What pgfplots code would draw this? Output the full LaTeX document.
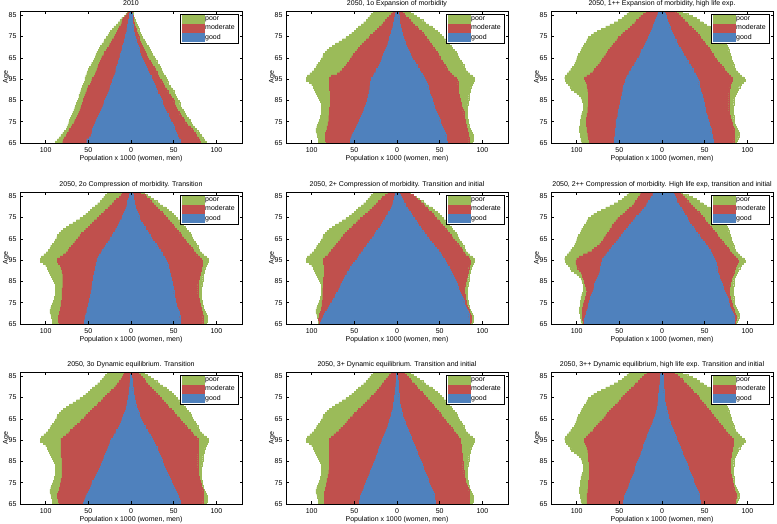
\documentclass[border=0pt]{standalone}
\usepackage{fontspec}
\setmainfont{Liberation Sans}
\usepackage{pgfplots}
\usepackage{pgfplotstable}
\pgfplotsset{compat=1.18}
\definecolor{cgood}{HTML}{4F81BD}
\definecolor{cmod}{HTML}{C0504D}
\definecolor{cpoor}{HTML}{9BBB59}

% ---------- totals (poor = outer boundary) ----------
\pgfplotstableread{
a wp mp
0 89 88
1 86 86
2 84 84
3 82 82
4 80 80
5 78 78
6 76 76
7 75 74
8 74 72
9 73 70
10 72 69
11 71 67
12 70 65
13 69 63
14 68 62
15 67 61
16 66 59
17 65 58
18 64 57
19 63 56
20 62 54
21 61 53
22 61 52
23 60 51
24 59 50
25 58 48
26 57 46
27 56 44
28 55 43
29 54 42
30 54 41
31 53 40
32 52 38
33 51 37
34 50 35
35 49 34
36 47 33
37 46 31
38 44 30
39 43 28
40 42 27
41 41 25
42 40 24
43 38 22
44 37 21
45 36 20
46 34 18
47 32 17
48 31 15
49 29 13
50 27 12
51 26 11
52 24 10
53 22 9
54 20 8
55 17 7
56 15 6
57 13 5
58 11 4
59 8 3
60 6 2.5
61 4 2
}\TotOne

\pgfplotstableread{
a wp mp
0 92 88
1 92 89
2 92 89
3 93 89
4 94 88
5 95 87
6 95 86
7 94 85
8 93 84
9 92 83
10 91 83
11 90 82
12 90 82
13 89 82
14 89 82
15 89 82
16 89 82
17 89 82
18 89 83
19 90 83
20 91 84
21 92 84
22 93 84
23 95 85
24 96 86
25 97 86
26 98 87
27 100 88
28 103 89
29 106 90
30 106 90
31 105 88
32 102 85
33 99 82
34 97 80
35 95 79
36 94 78
37 92 76
38 90 75
39 89 73
40 87 72
41 86 70
42 84 69
43 82 67
44 79 65
45 76 63
46 72 61
47 68 59
48 64 57
49 60 54
50 56 52
51 53 49
52 50 47
53 48 44
54 45 41
55 42 37
56 39 33
57 36 30
58 34 26
59 32 22
60 30 19
61 28 15
}\TotBase

\pgfplotstableread{
a wp mp
0 94 87
1 95 88
2 95 89
3 96 90
4 96 90
5 97 89
6 97 88
7 97 87
8 96 86
9 96 85
10 96 85
11 95 84
12 95 84
13 94 83
14 93 83
15 92 83
16 92 83
17 92 83
18 92 84
19 93 84
20 94 84
21 95 85
22 97 86
23 100 87
24 103 88
25 106 89
26 108 91
27 110 93
28 112 95
29 113 97
30 114 96
31 113 93
32 111 90
33 109 88
34 107 86
35 105 85
36 103 84
37 102 83
38 101 82
39 100 81
40 99 81
41 98 80
42 96 79
43 95 78
44 94 77
45 92 76
46 91 75
47 89 73
48 88 71
49 86 69
50 83 67
51 80 64
52 76 62
53 71 59
54 66 56
55 61 52
56 56 48
57 51 44
58 47 40
59 44 35
60 41 30
61 39 24
}\TotHigh

% ---------- panels: good and good+moderate boundaries ----------
\pgfplotstableread{
a wg wm mg mm
0 52 80 58 81
1 52 79 57 80
2 49 78 55 78
3 47 76 54 76
4 46 75 53 75
5 45 73 52 73
6 45 72 51 71
7 44 70 50 69
8 43 69 49 66
9 42 67 48 64
10 41 66 46 62
11 40 64 45 61
12 38 63 44 59
13 37 62 43 57
14 36 61 41 56
15 35 60 40 54
16 34 59 39 53
17 33 58 38 52
18 32 57 37 51
19 31 56 36 50
20 30 56 35 49
21 29 55 34 47
22 28 54 33 46
23 27 53 31 44
24 26 52 30 43
25 25 51 29 41
26 24 50 28 39
27 23 48 27 38
28 22 47 26 36
29 22 46 25 35
30 21 45 24 33
31 20 43 23 32
32 19 42 21 31
33 18 41 20 30
34 18 40 19 28
35 17 39 18 27
36 16 38 17 25
37 15 37 15 24
38 15 36 14 22
39 14 35 13 20
40 13 34 12 19
41 13 32 11 18
42 12 31 10 17
43 11 29 9.5 15
44 10 28 9 14
45 10 26 8 13
46 9 25 7 12
47 8 23 6 11
48 8 22 5.5 10
49 7 20 5 9
50 7 19 4 8
51 6 17 3.5 7
52 5 16 3 6
53 5 15 2.5 6
54 4 14 2 5
55 4 12 2 4
56 3 11 1.5 3.5
57 3 10 1.5 3
58 2 9 1 2.5
59 2 7 1 2
60 2 5 1 1.5
61 1 3 0.5 1
}\DatA

\pgfplotstableread{
a wg wm mg mm
0 55 83 59 84
1 55 84 58 84
2 54 84 58 84
3 53 84 57 83
4 52 84 56 83
5 50 83 55 82
6 49 82 54 82
7 48 82 53 81
8 47 81 52 81
9 45 81 51 80
10 44 80 50 80
11 43 80 49 79
12 42 80 48 79
13 41 79 47 78
14 40 79 46 78
15 39 79 45 77
16 38 79 44 76
17 37 78 43 75
18 36 78 42 75
19 35 78 41 74
20 35 78 41 74
21 34 78 40 73
22 34 78 39 73
23 33 78 38 72
24 33 78 38 72
25 32 79 37 72
26 32 79 36 72
27 31 79 35 71
28 31 79 34 71
29 30 79 33 70
30 30 79 32 69
31 28 77 30 66
32 27 70 29 63
33 25 67 27 61
34 24 64 26 59
35 22 62 24 57
36 21 60 23 56
37 20 58 21 54
38 19 56 20 53
39 18 55 18 51
40 17 53 17 50
41 16 51 15 48
42 15 49 14 47
43 14 47 13 45
44 13 45 12 43
45 12 43 11 41
46 11 41 10 40
47 10 38 9 38
48 9.5 36 8 36
49 9 33 7 34
50 8 31 6.5 32
51 7 28 6 30
52 6.5 26 5 28
53 6 23 4.5 25
54 5 21 4 23
55 4.5 18 3.5 20
56 4 16 3 18
57 3.5 14 2.5 15
58 3 12 2 13
59 2.5 9 2 10
60 2 7 1.5 8
61 1.5 5 1 6
}\DatB

\pgfplotstableread{
a wg wm mg mm
0 56 85 60 84
1 56 85 60 84
2 56 86 59 85
3 55 87 59 85
4 55 87 58 85
5 55 88 57 85
6 55 88 57 84
7 54 88 56 83
8 54 89 55 82
9 54 89 55 82
10 54 89 54 81
11 53 89 53 80
12 52 88 53 80
13 52 88 52 79
14 51 87 51 79
15 51 87 51 78
16 50 87 50 78
17 50 86 49 78
18 49 86 49 78
19 49 86 48 78
20 48 86 48 78
21 48 86 47 78
22 47 86 47 78
23 47 86 46 78
24 46 87 45 79
25 46 87 45 79
26 45 88 44 80
27 44 88 43 80
28 43 89 43 81
29 43 90 42 82
30 42 91 41 82
31 41 88 40 80
32 39 84 39 77
33 38 81 37 75
34 36 79 36 73
35 35 77 34 71
36 33 75 33 69
37 32 73 31 67
38 30 71 30 65
39 29 70 28 63
40 27 68 27 61
41 26 66 25 60
42 25 64 24 58
43 24 63 22 56
44 22 61 21 55
45 21 59 19 53
46 20 57 18 51
47 19 55 17 49
48 17 53 16 47
49 16 51 14 45
50 15 48 13 43
51 14 46 12 41
52 13 43 11 39
53 12 40 10 36
54 11 37 9 34
55 10 35 8 31
56 9 32 7 29
57 8 30 6 26
58 7 27 5 24
59 6 25 4.5 21
60 5 22 4 19
61 4 19 3 16
}\DatC

\pgfplotstableread{
a wg wm mg mm
0 55 84 58 84
1 55 85 58 84
2 54 85 57 84
3 54 85 57 84
4 53 84 56 83
5 52 84 56 83
6 52 83 55 82
7 51 83 54 82
8 50 82 53 81
9 50 82 53 81
10 49 82 52 80
11 49 81 52 80
12 48 81 51 79
13 48 81 51 79
14 47 81 50 78
15 47 81 50 78
16 46 81 49 78
17 46 80 49 78
18 45 80 48 78
19 45 80 48 79
20 44 80 47 79
21 44 80 47 80
22 44 80 46 80
23 43 80 46 81
24 43 81 45 81
25 42 81 45 82
26 42 82 44 82
27 41 83 43 83
28 41 85 42 83
29 40 86 41 83
30 40 86 40 82
31 38 83 39 80
32 37 79 37 77
33 35 76 36 75
34 34 74 34 73
35 32 72 32 71
36 30 70 30 69
37 29 68 29 67
38 27 66 27 65
39 25 64 25 63
40 24 62 23 61
41 22 60 22 59
42 21 58 20 57
43 19 55 19 55
44 18 53 17 53
45 16 50 16 51
46 15 48 14 49
47 14 45 13 47
48 13 43 11 45
49 11 40 10 42
50 10 37 9 40
51 9 35 8 38
52 8 32 7 36
53 7 30 6 33
54 6 27 5 31
55 5 25 4.5 28
56 4.5 22 4 26
57 4 20 3.5 23
58 3 17 3 21
59 2.5 14 2.5 18
60 2 12 2 16
61 1.5 10 1.5 11
}\DatD

\pgfplotstableread{
a wg wm mg mm
0 90 91 85 86
1 89 91 85 87
2 88 92 85 87
3 86 91 84 87
4 85 91 84 86
5 84 90 83 85
6 82 89 82 84
7 81 89 81 83
8 79 88 80 82
9 78 88 79 81
10 76 88 78 81
11 75 87 77 80
12 73 87 76 80
13 72 87 75 80
14 71 87 74 79
15 69 87 73 79
16 68 87 72 79
17 67 86 71 79
18 66 86 70 80
19 64 86 69 80
20 63 86 68 81
21 62 86 67 81
22 61 85 66 82
23 59 85 64 82
24 58 85 63 83
25 56 85 62 83
26 55 85 61 84
27 53 85 59 85
28 51 86 58 86
29 49 86 56 86
30 47 86 55 85
31 45 84 53 83
32 44 81 52 80
33 42 79 50 78
34 40 77 48 76
35 38 75 46 75
36 36 73 44 73
37 35 71 42 71
38 33 69 40 69
39 31 67 38 67
40 29 65 36 65
41 27 63 34 63
42 26 61 32 61
43 24 58 30 59
44 22 56 28 57
45 20 53 27 55
46 19 51 25 53
47 17 48 23 51
48 16 46 22 49
49 14 43 20 46
50 13 40 18 44
51 11 37 17 42
52 10 34 15 40
53 8 32 13 37
54 7 29 12 35
55 6 27 10 32
56 5 24 9 30
57 4 22 7 27
58 3.5 19 6 24
59 3 17 5 21
60 2.5 14 4 19
61 2 11 3 14
}\DatE

\pgfplotstableread{
a wg wm mg mm
0 91 92 85 86
1 91 92 85 86
2 91 93 85 87
3 90 93 84 87
4 89 93 83 86
5 89 93 82 85
6 88 93 81 84
7 87 93 80 83
8 86 92 79 82
9 86 92 78 82
10 85 91 77 81
11 84 90 77 80
12 84 90 76 80
13 83 89 75 79
14 82 89 74 79
15 81 88 73 79
16 80 89 72 79
17 79 89 71 79
18 79 90 70 80
19 78 91 69 80
20 77 91 68 81
21 76 92 67 81
22 75 93 67 82
23 74 94 66 83
24 73 95 65 84
25 72 97 64 85
26 72 99 64 86
27 71 100 63 87
28 71 101 63 88
29 70 101 62 89
30 70 100 61 88
31 68 97 60 86
32 66 92 59 83
33 64 87 57 81
34 62 82 56 79
35 60 79 54 77
36 58 76 53 75
37 56 73 51 73
38 54 71 49 71
39 52 69 47 69
40 50 68 45 67
41 48 66 43 65
42 46 64 41 63
43 44 62 39 61
44 42 61 38 59
45 40 59 36 57
46 38 58 34 55
47 36 56 32 53
48 34 54 31 51
49 32 52 29 49
50 30 49 28 47
51 27 46 26 45
52 25 43 25 43
53 23 41 23 40
54 21 38 22 38
55 19 35 20 35
56 18 33 19 33
57 16 31 17 30
58 14 29 16 28
59 13 28 15 26
60 11 26 14 24
61 10 25 13 21
}\DatF

\pgfplotstableread{
a wg wm mg mm
0 56 84 58 84
1 55 85 57 84
2 54 85 56 85
3 53 86 55 85
4 52 86 54 85
5 50 85 53 85
6 49 84 52 84
7 48 84 50 83
8 47 83 49 82
9 46 83 48 82
10 45 82 47 81
11 43 82 46 80
12 42 81 45 80
13 41 81 43 79
14 40 81 42 79
15 38 81 41 79
16 37 81 40 79
17 36 81 39 78
18 35 81 38 78
19 34 81 37 78
20 33 81 36 78
21 32 81 35 78
22 31 82 34 78
23 30 82 33 78
24 29 82 32 79
25 28 82 31 79
26 27 82 30 79
27 26 82 28 79
28 25 82 27 79
29 24 82 26 79
30 23 82 25 78
31 21 79 23 76
32 20 76 22 73
33 18 73 20 71
34 17 71 19 69
35 15 68 17 66
36 14 66 16 64
37 13 63 14 62
38 12 60 13 60
39 11 58 12 58
40 10 55 11 56
41 9 53 10 53
42 8 50 9 51
43 7 48 8 49
44 6 45 7 47
45 5.5 43 6 44
46 5 40 5.5 42
47 4.5 38 5 40
48 4 35 4.5 38
49 3.5 33 4 35
50 3 30 3.5 33
51 2.5 28 3 30
52 2.5 25 2.5 28
53 2 23 2 26
54 2 20 2 24
55 1.5 18 1.5 21
56 1.5 16 1.5 19
57 1 14 1 17
58 1 12 1 15
59 0.5 10 0.5 13
60 0.5 9 0.5 11
61 0 8 0 8
}\DatG

\pgfplotstableread{
a wg wm mg mm
0 44 85 45 85
1 44 85 45 85
2 43 85 44 85
3 43 85 44 85
4 42 85 43 85
5 41 85 42 85
6 40 84 41 84
7 39 84 40 83
8 38 83 39 82
9 37 83 38 81
10 36 82 37 80
11 35 82 36 80
12 34 81 35 79
13 33 81 34 79
14 32 80 33 78
15 31 80 32 78
16 30 79 31 77
17 29 79 30 77
18 28 79 29 77
19 27 79 28 77
20 26 79 27 76
21 25 79 26 76
22 24 79 25 76
23 23 79 24 76
24 22 79 23 75
25 22 79 22 75
26 21 79 21 75
27 20 79 20 75
28 19 79 19 74
29 18 79 18 74
30 17 79 17 74
31 16 77 16 72
32 15 74 15 70
33 14 71 14 68
34 13 68 13 66
35 12 66 12 64
36 11 63 11 62
37 10 61 10 60
38 9.5 59 9 58
39 9 57 8 56
40 8 55 7 54
41 7 52 6 52
42 6.5 50 5.5 50
43 6 47 5 48
44 5 45 4.5 46
45 4.5 42 4 44
46 4 40 3.5 42
47 4 37 3 40
48 3.5 35 2.5 38
49 3 32 2.5 35
50 3 30 2 33
51 2.5 27 2 31
52 2.5 25 1.5 29
53 2 23 1.5 26
54 2 21 1 24
55 1.5 19 1 22
56 1.5 17 1 20
57 1 15 1 17
58 1 13 0.5 15
59 1 11 0.5 13
60 1 9 0.5 11
61 0.5 7 0 8
}\DatH

\pgfplotstableread{
a wg wm mg mm
0 45 88 45 86
1 45 88 45 86
2 44 88 44 86
3 44 88 44 87
4 43 88 43 87
5 42 87 42 86
6 41 87 41 85
7 40 86 40 84
8 39 86 39 83
9 38 86 38 83
10 37 86 37 82
11 36 85 36 82
12 35 85 35 81
13 34 85 34 81
14 33 85 33 80
15 32 85 32 80
16 31 85 31 80
17 31 85 30 80
18 30 85 29 80
19 29 85 28 80
20 28 86 27 80
21 27 86 26 80
22 26 86 25 81
23 25 86 24 81
24 24 87 23 81
25 23 87 22 82
26 22 88 21 82
27 22 89 20 83
28 21 90 19 83
29 20 91 18 83
30 19 91 17 83
31 18 89 16 81
32 17 86 15 78
33 16 84 14 76
34 15 81 13 74
35 14 79 12 72
36 13 77 11 70
37 12 75 10 68
38 11 73 9 66
39 10 70 8 64
40 9 68 7.5 62
41 8 66 7 60
42 7.5 64 6 58
43 7 62 5.5 56
44 6 60 5 54
45 5.5 57 4.5 52
46 5 55 4 50
47 5 52 3.5 48
48 4.5 50 3 46
49 4.5 48 3 44
50 4 46 2.5 42
51 4 43 2.5 40
52 3.5 41 2 37
53 3.5 38 2 35
54 3 36 1.5 33
55 3 33 1.5 30
56 2.5 31 1.5 28
57 2.5 28 1.5 25
58 2 26 1 23
59 2 23 1 20
60 2 21 1 18
61 1.5 18 0.5 14
}\DatI

\newcommand{\sz}{\fontsize{7}{8}\selectfont}

\pgfplotsset{
  lay/.style={xbar, bar width=1, bar shift=0pt, draw=#1, line width=0.2pt, fill=#1,
    legend image code/.code={\fill[#1] (0pt,-3.8pt) rectangle (22pt,3.8pt);}},
  pyr/.style={
    width=222pt, height=132pt, scale only axis, anchor=south west,
    xmin=-130, xmax=130, ymin=-0.5, ymax=61.5,
    xtick={-100,-50,0,50,100}, xticklabels={100,50,0,50,100},
    ytick={-0.5,9.5,19.5,29.5,39.5,49.5,59.5},
    yticklabels={65,75,85,95,65,75,85},
    tick align=inside, major tick length=2.5pt,
    every tick/.style={black, line width=0.5pt},
    axis line style={black, line width=0.6pt},
    axis on top,
    tick label style={font=\sz},
    label style={font=\sz},
    title style={font=\sz, at={(axis description cs:0.5,1.038)}, anchor=base, yshift=-6pt, inner sep=0pt},
    xlabel={Population x 1000 (women, men)},
    ylabel={Age},
    xlabel style={at={(axis description cs:0.5,-0.135)}, anchor=base, inner sep=0pt},
    ylabel style={at={(axis description cs:-0.055,0.5)}, anchor=base, inner sep=0pt},
    xticklabel style={anchor=base, yshift=-9.5pt},
    /pgf/number format/assume math mode=true,
    legend cell align=left,
    legend style={at={(1,1)}, anchor=north east, xshift=-4pt, yshift=-3pt,
      draw=black, line width=0.5pt, font=\sz, inner xsep=2pt, inner ysep=1.2pt,
      row sep=0.6pt, nodes={inner sep=1pt}},
  }
}

\newcommand{\panel}[5]{%
\begin{axis}[pyr, at={(#1pt,#2pt)}, title={#3}]
\addplot[lay=cpoor] table[x expr=-\thisrow{wp}, y=a] {#4};
\addplot[lay=cpoor, forget plot] table[x=mp, y=a] {#4};
\addplot[lay=cmod] table[x expr=-\thisrow{wm}, y=a] {#5};
\addplot[lay=cmod, forget plot] table[x=mm, y=a] {#5};
\addplot[lay=cgood] table[x expr=-\thisrow{wg}, y=a] {#5};
\addplot[lay=cgood, forget plot] table[x=mg, y=a] {#5};
\legend{poor,moderate,good}
\end{axis}}

\begin{document}
\begin{tikzpicture}
\path[use as bounding box] (0,0) rectangle (777pt,524pt);
\panel{20}{381}{2010}{\TotOne}{\DatA}
\panel{286}{381}{2050, 1o Expansion of morbidity}{\TotBase}{\DatB}
\panel{551}{381}{2050, 1++ Expansion of morbidity, high life exp.}{\TotHigh}{\DatC}
\panel{20}{200}{2050, 2o Compression of morbidity. Transition}{\TotBase}{\DatD}
\panel{286}{200}{2050, 2+ Compression of morbidity. Transition and initial}{\TotBase}{\DatE}
\panel{551}{200}{2050, 2++ Compression of morbidity. High life exp, transition and initial}{\TotHigh}{\DatF}
\panel{20}{20}{2050, 3o Dynamic equilibrium. Transition}{\TotBase}{\DatG}
\panel{286}{20}{2050, 3+ Dynamic equilibrium. Transition and initial}{\TotBase}{\DatH}
\panel{551}{20}{2050, 3++ Dynamic equilibrium, high life exp. Transition and initial}{\TotHigh}{\DatI}
\end{tikzpicture}
\end{document}
